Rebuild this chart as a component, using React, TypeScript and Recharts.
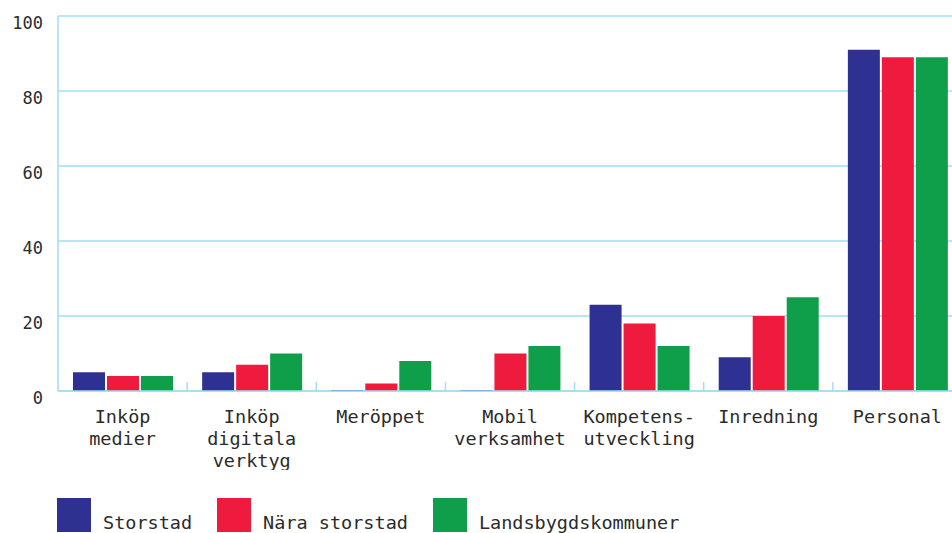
import { Bar, BarChart, CartesianGrid, XAxis, YAxis } from 'recharts';

const categories = ['Inköp medier', 'Inköp digitala verktyg', 'Meröppet', 'Mobil verksamhet', 'Kompetens-utveckling', 'Inredning', 'Personal'];
// tick labels split into lines like the original
const categoryLines = [['Inköp', 'medier'], ['Inköp', 'digitala', 'verktyg'], ['Meröppet'], ['Mobil', 'verksamhet'], ['Kompetens-', 'utveckling'], ['Inredning'], ['Personal']];
const storstad = [5, 5, 0, 0, 23, 9, 91];
const naraStorstad = [4, 7, 2, 10, 18, 20, 89];
const landsbygd = [4, 10, 8, 12, 12, 25, 89];
const yTicks = [0, 20, 40, 60, 80, 100];

const series = [
  { key: 'storstad', name: 'Storstad', color: '#2e3192' },
  { key: 'nara', name: 'Nära storstad', color: '#ef1b3f' },
  { key: 'landsbygd', name: 'Landsbygdskommuner', color: '#0f9f4b' },
];

const GRID = '#a2def2';
const TEXT = '#2b2b2b';
const FONT = '"DejaVu Sans Mono", "Liberation Mono", monospace';

const chartData = categories.map((c, i) => ({
  category: c,
  storstad: storstad[i],
  nara: naraStorstad[i],
  landsbygd: landsbygd[i],
}));

// kategorietikett + kort streck vid gränsen till nästa kategori
function XTick({ x, y, payload, index }: any) {
  const lines = categoryLines[index] ?? [payload.value];
  const boundary = x + (payload.offset ?? 0);
  return (
    <g>
      {index < categories.length - 1 && (
        <line x1={boundary} x2={boundary} y1={y} y2={y - 9} stroke={GRID} strokeWidth={1.5} />
      )}
      <text x={x} y={y} textAnchor="middle" fill={TEXT} fontSize={18.5} fontFamily={FONT}>
        {lines.map((l: string, i: number) => (
          <tspan key={i} x={x} dy={i === 0 ? 32 : 22}>
            {l}
          </tspan>
        ))}
      </text>
    </g>
  );
}

function YTick({ x, y, payload }: any) {
  return (
    <text x={x} y={y} dy={13} textAnchor="end" fill={TEXT} fontSize={17} fontFamily={FONT}>
      {payload.value}
    </text>
  );
}

export default function App() {
  return (
    <div
      style={{
        position: 'absolute',
        left: 0,
        top: 0,
        width: 952,
        height: 533,
        overflow: 'hidden',
        background: '#fff',
        fontFamily: FONT,
      }}
    >
      <BarChart
        width={980}
        height={470}
        data={chartData}
        margin={{ top: 16, right: 18, left: 0, bottom: 9 }}
        barSize={32}
        barGap={2}
      >
        <CartesianGrid vertical={false} stroke={GRID} strokeWidth={1.5} />
        <XAxis
          dataKey="category"
          interval={0}
          height={70}
          tick={<XTick />}
          tickLine={false}
          tickSize={0}
          tickMargin={0}
          axisLine={{ stroke: GRID, strokeWidth: 1.5 }}
        />
        <YAxis
          domain={[0, 100]}
          ticks={yTicks}
          width={58}
          tick={<YTick />}
          tickLine={false}
          tickMargin={9}
          axisLine={{ stroke: GRID, strokeWidth: 1.5 }}
        />
        {series.map((s) => (
          <Bar key={s.key} dataKey={s.key} name={s.name} fill={s.color} minPointSize={1} isAnimationActive={false} />
        ))}
      </BarChart>
      <div style={{ position: 'absolute', left: 57, top: 498, display: 'flex', alignItems: 'flex-start' }}>
        {series.map((s) => (
          <div key={s.key} style={{ display: 'flex', alignItems: 'flex-start', marginRight: 25 }}>
            <div style={{ width: 34, height: 34, background: s.color }} />
            <span style={{ marginLeft: 12, marginTop: 14, fontSize: 18.5, color: TEXT, lineHeight: '22px' }}>{s.name}</span>
          </div>
        ))}
      </div>
    </div>
  );
}
